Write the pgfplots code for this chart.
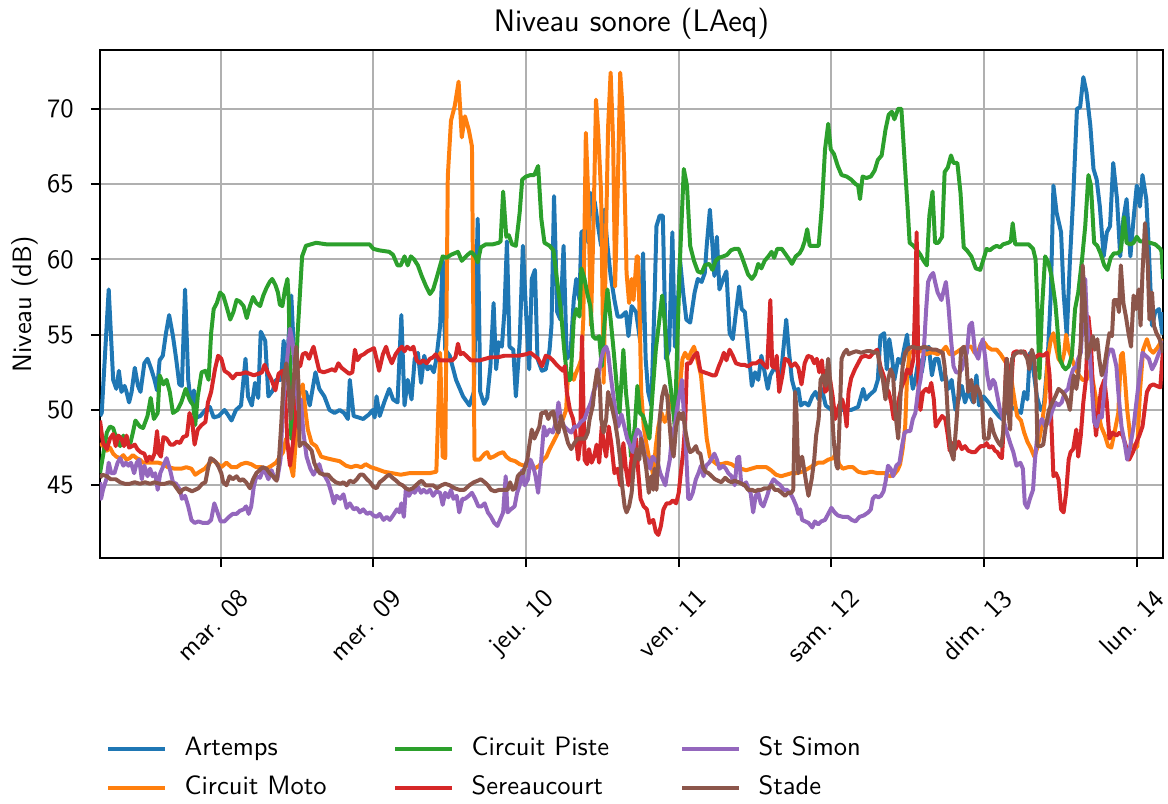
\documentclass[border=0pt]{standalone}
\usepackage{pgfplots}
\pgfplotsset{compat=1.18}
\renewcommand{\familydefault}{\sfdefault}
\definecolor{tabblue}{HTML}{1F77B4}
\definecolor{taborange}{HTML}{FF7F0E}
\definecolor{tabgreen}{HTML}{2CA02C}
\definecolor{tabred}{HTML}{D62728}
\definecolor{tabpurple}{HTML}{9467BD}
\definecolor{tabbrown}{HTML}{8C564B}
\begin{document}
\begin{tikzpicture}
\begin{axis}[
  name=ax,
  scale only axis,
  width=400.45pt, height=191.37pt,
  xmin=5.03, xmax=172.13,
  ymin=40.17, ymax=73.9,
  xtick={24,48,72,96,120,144,168},
  xticklabels={mar. 08, mer. 09, jeu. 10, ven. 11, sam. 12, dim. 13, lun. 14},
  ytick={45,50,55,60,65,70},
  grid=major,
  major grid style={color=black!31, line width=0.8pt},
  tick align=outside,
  tick pos=left,
  major tick length=3.4pt,
  every tick/.style={black, line width=0.8pt},
  axis line style={line width=0.8pt},
  ylabel={Niveau (dB)},
  ylabel shift=-3.6pt,
  /pgf/number format/assume math mode=true,
  yticklabel style={xshift=-3pt},
  xticklabel style={xshift=6.2pt, yshift=-2.8pt, rotate=45, anchor=north east},
  legend columns=3,
  legend cell align=left,
  legend image code/.code={\draw[#1] (0pt,0pt) -- (21.4pt,0pt);},
  legend style={at={(0.0060,-0.352)}, anchor=north west, draw=none, fill=none,
    inner sep=0pt, outer sep=0pt, column sep=0pt, row sep=5.7pt,
    nodes={inner xsep=0pt, inner ysep=0pt, text width=78.6pt, align=left, text height=7pt, text depth=2pt},
    /tikz/every odd column/.append style={column sep=6.6pt}},
  every axis plot/.append style={line width=1.5pt, line join=round, no markers},
]
% Artemps
\addplot[tabblue, forget plot] coordinates {
(5.03,49.6) (5.3,49.8) (6.4,58.0) (7.1,52.0) (7.6,51.4) (8.0,52.6) (8.4,51.2) (8.9,51.6) (9.2,51.2) (9.6,50.5) (10.0,51.2) (10.5,52.8) (11.0,51.6) (11.4,51.2) (12.0,53.1) (12.5,53.4) (13.1,52.7) (13.6,52.0) (14.0,51.3) (14.4,53.3) (14.9,53.6) (15.4,55.1) (15.9,56.3) (16.5,54.9) (17.0,53.4) (17.5,51.7) (17.9,51.6) (18.4,58.0) (18.9,52.0) (19.3,50.5) (19.8,51.3) (20.2,49.5) (20.8,49.6) (21.6,50.0) (22.3,50.2) (22.9,49.5) (23.7,49.6) (24.6,50.0) (25.1,49.7) (25.7,49.3) (26.4,50.0) (27.2,50.3) (27.9,53.4) (28.3,50.9) (28.9,50.3) (29.4,51.8) (29.9,50.8) (30.3,55.2) (31.0,54.6) (31.5,50.9) (32.2,51.3) (32.7,52.0)
(33.5,52.0) (33.9,54.6) (34.3,52.3) (35.1,57.6) (35.9,50.3) (36.7,50.3) (37.4,51.2) (38.0,50.3) (38.9,52.5) (39.5,51.4) (40.3,50.9) (41.1,50.0) (41.9,49.8) (42.7,50.0) (43.4,49.8) (44.0,49.4) (44.3,52.0) (44.9,49.6) (45.7,49.5) (46.4,49.4) (47.3,49.7) (47.9,50.0) (48.2,49.5) (48.5,50.9) (49.0,49.6) (49.7,50.5) (50.5,51.4) (51.1,50.7) (51.8,50.5) (52.4,56.3) (52.9,50.3) (53.4,52.0) (54.0,50.7) (54.5,53.4) (55.0,53.8) (55.5,51.8) (56.0,53.6) (56.5,52.7) (57.0,52.9) (57.5,52.5) (57.9,53.4) (58.5,55.6) (58.9,60.0) (59.3,54.0)
(60.0,53.6) (61.0,52.0) (62.1,50.9) (63.1,50.3) (63.8,51.2) (64.4,62.7) (64.8,51.2) (65.4,50.4) (65.9,50.8) (66.4,52.9) (66.9,57.1) (67.3,52.7) (67.7,54.5) (68.2,54.2) (68.6,56.5) (69.0,61.2) (69.4,54.2) (70.0,54.0) (70.4,50.9) (71.0,54.5) (71.5,60.9) (72.0,56.5) (72.5,52.7) (72.9,58.7) (73.4,59.3) (73.8,53.4) (74.5,52.6) (75.1,52.7) (75.7,54.0) (76.0,55.6) (76.4,64.2) (76.9,56.5) (77.4,56.0) (77.9,60.9) (78.4,53.4) (79.0,53.8) (79.5,57.3) (79.9,58.7) (80.4,57.3) (80.7,61.8) (81.4,62.0) (81.8,61.1) (82.2,64.4) (82.8,63.8) (83.4,62.0) (83.8,60.9) (84.3,63.3) (84.8,60.9) (85.3,58.9) (85.9,57.3) (86.4,56.2)
(87.0,56.2) (87.7,56.5) (88.1,54.9) (88.6,56.9) (89.3,56.5) (89.9,54.7) (90.4,60.4) (90.8,53.4) (91.2,51.2) (91.7,50.3) (92.2,57.3) (92.5,62.2) (93.0,62.9) (93.5,62.9) (94.0,53.4) (94.5,54.0) (95.0,61.8) (95.4,54.2) (95.7,55.6) (96.2,60.0) (96.7,57.8) (97.2,56.0) (97.8,55.8) (98.5,57.8) (99.0,58.7) (99.6,58.5) (100.1,59.1) (100.4,60.9) (100.9,63.3) (101.3,60.9) (101.6,58.9) (102.0,61.5) (102.4,58.0) (103.0,58.7) (103.5,59.2) (104.0,55.1) (104.5,54.7) (105.0,56.5) (105.5,58.2) (105.9,56.7) (106.4,56.5) (106.9,54.2) (107.5,51.6) (108.0,52.5) (108.5,52.0) (109.0,53.6) (109.6,52.3) (110.0,51.4) (110.4,52.3) (110.9,52.7) (111.4,52.7) (112.0,52.0) (112.4,53.8) (112.9,56.0) (113.3,54.0) (113.8,52.0) (114.3,51.2)
(114.8,51.4) (115.2,50.3) (115.8,50.5) (116.4,50.3) (117.0,50.9) (117.5,51.2) (118.0,50.7) (118.5,51.4) (119.1,50.3) (120.0,50.0) (121.6,50.0) (123.1,50.0) (124.2,50.2) (125.0,51.4) (125.4,50.7) (126.0,51.0) (126.8,51.3) (127.3,52.0) (127.7,54.9) (128.3,55.1) (128.7,52.7) (129.1,54.7) (129.5,53.6) (129.9,52.0) (130.5,53.4) (131.0,53.1) (131.5,54.2) (131.9,55.0) (132.3,52.9) (132.8,51.4) (133.2,52.0) (133.7,53.4) (134.2,52.5) (134.7,53.8) (135.3,54.2) (135.8,52.3) (136.3,53.4) (136.8,53.4) (137.4,52.0) (137.9,52.3) (138.4,51.4) (138.9,52.0) (139.5,50.0) (140.0,50.7) (140.5,51.6) (141.0,50.5) (141.5,51.2)
(142.3,50.5) (142.8,52.3) (143.2,50.3) (143.9,50.9) (144.7,50.5) (145.5,50.0) (146.3,49.6) (146.8,49.4) (147.6,50.0) (148.3,50.2) (149.1,50.0) (149.8,49.8) (150.3,51.2) (150.8,50.7) (151.2,53.8) (151.8,52.5) (152.3,50.9) (152.9,50.0) (153.4,50.3) (154.0,53.4) (154.5,57.8) (154.9,64.9) (155.4,63.1) (156.1,61.8) (156.5,57.8) (157.0,54.9) (157.5,60.0) (158.0,64.0) (158.6,70.0) (159.1,70.1) (159.6,72.1) (160.1,71.1) (160.7,68.9) (161.2,66.0) (161.7,65.3) (162.2,63.5) (162.8,60.2) (163.3,61.8) (163.8,62.2) (164.3,66.4) (164.9,64.0) (165.4,60.2) (165.9,62.7) (166.4,64.0) (167.0,60.2) (167.5,62.7) (168.0,64.9) (168.5,63.5) (168.9,65.6) (169.5,64.0) (169.9,60.7) (170.4,55.6) (170.9,56.5) (171.5,56.7) (172.0,55.1) (172.13,56.5)
};
% Circuit Moto
\addplot[taborange, forget plot] coordinates {
(5.03,47.8) (5.5,47.6) (6.1,47.3) (6.6,47.5) (7.1,47.1) (7.6,46.9) (8.2,46.8) (8.7,47.0) (9.2,46.7) (9.7,46.8) (10.2,47.0) (10.8,46.8) (11.3,46.7) (11.8,46.5) (12.6,46.5) (13.4,46.5) (14.2,46.5) (15.0,46.4) (15.7,46.2) (16.8,46.1) (17.8,46.1) (18.6,46.2) (19.4,46.1) (20.0,45.7) (20.7,45.9) (21.5,46.1) (22.3,46.5) (22.8,46.7) (23.3,46.5) (24.1,46.2) (24.9,46.5) (25.7,46.2) (26.5,46.2) (27.2,46.4) (28.0,46.5) (28.8,46.4) (29.6,46.2) (30.4,46.2) (31.2,46.1) (32.0,46.3) (32.7,46.5) (33.8,47.2) (34.3,48.1) (34.7,47.4) (35.1,46.1) (35.4,45.6) (35.9,48.5) (36.4,51.2) (36.9,51.7) (37.3,50.0) (37.7,48.7) (38.3,47.8) (39.0,47.6) (39.8,46.9) (40.6,46.8) (41.6,46.7) (42.7,46.6) (43.7,46.3) (44.5,46.2) (45.3,46.3) (46.1,46.2) (46.8,46.4) (47.6,46.2) (48.4,46.1) (49.7,45.9) (51.0,45.8) (52.3,45.7) (53.6,45.8) (55.2,45.8) (56.8,45.8) (57.9,45.9) (58.5,53.8) (58.9,46.9) (59.3,46.8) (59.7,65.5) (60.2,69.2) (60.8,70.2) (61.4,71.8) (61.9,68.1) (62.4,69.5) (63.0,68.6) (63.5,67.5) (63.9,46.7) (64.7,46.7) (65.5,47.1) (65.9,47.2) (66.3,46.8) (66.9,46.9) (67.7,47.1) (68.4,47.2) (68.9,46.9) (69.5,46.7) (70.3,46.6) (71.0,46.4) (71.7,46.3) (72.5,46.3) (73.3,46.1) (74.1,46.3) (74.7,46.7) (75.2,46.9) (75.7,47.4) (76.2,47.8) (76.8,48.3) (77.3,48.9) (77.8,49.4) (78.3,50.0) (78.6,52.3) (79.1,52.5) (79.5,52.0) (79.9,52.5) (80.3,52.9) (80.7,53.4) (81.0,56.0) (81.4,68.4) (81.8,64.0) (82.2,55.6) (82.6,62.2) (83.0,70.6) (83.3,68.8) (83.8,64.4) (84.2,51.8) (84.6,62.2) (84.9,68.8) (85.3,72.4) (85.7,67.7) (86.0,58.2) (86.4,64.4) (86.8,72.4) (87.1,70.5) (87.4,66.6) (87.8,59.1) (88.2,57.1) (88.6,58.7) (88.9,57.3) (89.4,60.2) (89.6,60.2) (89.9,55.6) (90.1,51.2) (90.5,48.9) (90.9,47.8) (91.3,46.9) (91.7,46.3) (92.0,45.6) (92.4,47.6) (92.8,48.9) (93.3,49.8) (93.8,49.2) (94.2,49.6) (94.6,50.9) (95.1,50.0) (95.5,50.9) (96.1,51.2) (96.6,53.4) (97.0,53.8) (97.5,53.4) (98.0,53.9) (98.4,54.2) (98.9,53.4) (99.5,52.3) (100.0,50.0) (100.4,48.1) (100.9,46.9) (101.4,46.6) (102.0,46.4) (102.7,46.4) (103.5,46.5) (104.3,46.4) (105.0,46.2) (105.8,46.1) (106.6,46.0) (107.4,46.1) (108.2,46.2) (109.0,46.2) (109.8,46.2) (110.5,46.0) (111.3,45.7) (112.1,45.6) (112.9,45.7) (113.7,45.8) (114.5,45.8) (115.4,45.9) (116.3,46.1) (117.1,46.3) (117.9,46.5) (118.7,46.5) (119.5,46.7) (120.3,46.8) (120.8,47.2) (121.2,46.4) (121.8,46.1) (122.6,46.2) (123.4,46.2) (124.2,45.9) (125.2,45.8) (126.3,45.9) (127.3,45.8) (128.4,45.8) (129.2,45.6) (129.8,45.7) (130.4,46.0) (130.8,46.4) (131.2,47.4) (131.6,48.9) (131.9,52.3) (132.3,53.8) (133.0,53.9) (133.6,53.8) (134.2,54.0) (134.9,53.7) (135.5,53.8) (136.1,53.8) (136.7,53.7) (137.4,53.9) (138.0,54.2) (138.6,53.7) (139.2,53.7) (139.9,53.9) (140.6,54.1) (141.3,54.2) (142.0,54.2) (142.5,53.8) (143.0,53.8) (143.5,54.4) (144.0,54.5) (144.5,54.2) (145.2,54.0) (146.0,54.0) (146.6,53.7) (147.2,53.3) (147.8,52.9) (148.2,52.3) (148.7,50.9) (149.2,49.6) (149.8,49.3) (150.3,48.5) (150.8,47.9) (151.3,47.5) (151.9,46.9) (152.3,47.4) (152.8,48.3) (153.2,49.4) (153.6,50.7) (154.0,53.4) (154.5,54.7) (154.9,55.1) (155.3,54.2) (155.7,53.4) (156.2,53.1) (156.6,53.8) (156.9,55.0) (157.3,54.0) (157.8,53.4) (158.4,52.7) (158.9,52.3) (159.5,52.0) (160.1,52.0) (160.8,52.7) (161.4,51.2) (161.9,50.0) (162.4,48.9) (163.0,48.3) (163.5,47.6) (164.0,47.5) (164.5,48.5) (165.1,49.8) (165.5,53.6) (165.8,53.8) (166.1,52.3) (166.5,50.0) (167.1,47.8) (167.6,47.4) (168.1,47.6) (168.5,51.2) (169.0,54.0) (169.6,54.7) (170.1,54.0) (170.6,53.8) (171.2,54.1) (171.8,54.5) (172.13,54.7)
};
% Circuit Piste
\addplot[tabgreen, forget plot] coordinates {
(5.03,45.8) (5.4,46.7) (6.1,48.5) (6.6,48.9) (7.1,48.8) (7.6,48.1) (8.2,47.6) (8.7,48.3) (9.2,47.8) (9.7,47.6) (10.2,48.5) (10.6,49.3) (11.3,48.9) (11.8,48.8) (12.5,49.6) (13.0,50.8) (13.5,49.4) (14.1,49.8) (14.4,52.3) (15.0,51.7) (15.5,52.0) (16.0,51.2) (16.5,49.8) (17.2,50.0) (17.8,50.5) (18.5,51.4) (19.1,50.7) (19.7,50.3) (20.0,49.0) (20.4,50.9) (21.0,52.5) (21.6,52.6) (22.1,52.0) (22.5,55.1) (22.9,56.7) (23.4,57.1) (23.9,57.8) (24.4,57.6) (24.9,56.9) (25.5,56.0) (26.0,56.5) (26.5,57.3) (27.0,57.2) (27.6,56.9) (28.1,56.1) (28.6,56.9) (29.1,57.5) (29.6,57.1) (30.2,56.9) (30.7,57.6) (31.2,58.1) (31.7,58.5) (32.1,58.7) (32.6,58.3) (33.0,57.8) (33.3,57.0) (33.7,56.9) (34.1,58.0) (34.5,58.7) (34.7,57.3) (35.1,48.1) (35.4,48.3) (36.1,55.1) (36.8,60.2) (37.4,60.9) (38.2,61.0) (39.0,61.1) (40.6,61.0) (42.1,61.0) (43.7,61.0) (45.3,61.0) (47.4,61.0) (48.0,60.7) (48.9,60.6) (50.5,60.5) (51.1,60.3) (51.8,59.6) (52.3,59.6) (52.9,60.2) (53.4,59.6) (53.9,60.2) (54.4,60.0) (55.0,59.6) (55.6,58.9) (56.3,58.2) (56.9,57.7) (57.4,58.0) (57.9,58.7) (58.5,59.6) (58.9,60.2) (59.5,60.1) (60.2,60.3) (61.3,60.5) (61.9,59.9) (62.8,60.3) (63.4,60.5) (64.0,60.2) (64.4,59.8) (64.9,60.8) (65.7,61.0) (66.8,61.0) (67.7,61.1) (68.0,61.2) (68.4,64.5) (68.9,61.5) (69.3,61.6) (69.8,61.0) (70.4,60.9) (71.0,63.1) (71.4,65.3) (72.0,65.5) (72.7,65.6) (73.3,65.6) (73.9,66.2) (74.4,62.7) (74.9,61.1) (75.7,60.9) (76.3,60.6) (77.0,58.2) (77.5,56.5) (78.0,54.0) (78.5,52.0) (79.0,52.0) (79.5,56.0) (79.9,56.7) (80.4,56.2) (80.7,59.4) (81.2,58.7) (81.6,57.8) (82.1,56.9) (82.5,54.9) (83.0,54.7) (83.5,54.9) (83.9,52.9) (84.3,55.6) (84.8,58.0) (85.3,56.0) (85.8,53.8) (86.3,51.4) (86.7,49.8) (87.3,54.0) (87.7,51.2) (88.0,50.0) (88.5,46.9) (89.1,48.9) (89.5,51.6) (89.9,49.8) (90.4,49.6) (90.9,48.9) (91.4,48.1) (91.9,51.2) (92.4,54.0) (92.9,55.8) (93.4,57.6) (93.8,55.8) (94.2,53.4) (94.6,52.0) (95.0,50.5) (95.4,48.8) (95.7,53.4) (96.2,60.0) (96.8,66.0) (97.3,64.9) (97.8,60.9) (98.4,59.9) (99.0,59.2) (99.6,59.1) (100.1,59.6) (100.8,59.7) (101.3,59.3) (101.8,59.9) (102.3,60.1) (103.0,60.2) (103.6,60.3) (104.2,60.6) (104.8,60.7) (105.4,60.7) (105.9,60.2) (106.4,59.6) (106.9,59.0) (107.5,58.7) (108.0,59.0) (108.5,59.7) (109.0,59.4) (109.5,59.9) (110.1,60.2) (110.6,60.5) (111.0,60.1) (111.5,60.7) (112.2,60.7) (112.7,60.4) (113.2,60.1) (113.8,59.7) (114.4,60.2) (115.0,60.4) (115.4,60.7) (115.8,61.2) (116.2,62.0) (116.6,60.9) (117.3,60.9) (118.0,60.9) (118.5,63.5) (119.0,67.3) (119.5,69.0) (119.9,67.3) (120.4,67.0) (121.0,66.2) (121.6,65.6) (122.4,65.5) (123.1,65.3) (123.8,65.0) (124.2,64.9) (124.5,64.0) (124.9,65.5) (125.5,65.4) (126.2,65.5) (126.8,65.9) (127.3,66.6) (127.9,66.9) (128.5,68.6) (129.0,69.6) (129.5,69.8) (129.9,69.3) (130.5,70.0) (131.0,70.0) (131.5,66.6) (132.0,63.3) (132.3,61.1) (132.9,60.9) (133.5,60.6) (134.0,60.3) (134.5,59.9) (135.0,59.6) (135.4,62.9) (135.9,64.5) (136.3,61.1) (136.8,61.1) (137.4,61.5) (137.8,65.8) (138.3,66.1) (138.8,66.9) (139.2,66.4) (139.8,66.4) (140.3,64.4) (140.8,60.8) (141.3,60.6) (142.0,60.2) (142.7,59.4) (143.4,59.3) (143.9,60.0) (144.4,60.7) (144.9,60.6) (145.5,60.8) (146.0,60.9) (146.5,60.8) (147.0,61.0) (147.8,61.1) (148.2,61.2) (148.5,62.4) (148.9,61.0) (149.9,61.0) (151.0,61.0) (151.7,60.7) (152.1,60.0) (152.4,56.7) (152.7,52.1) (153.1,56.7) (153.6,60.2) (154.1,59.8) (154.6,58.9) (155.2,57.1) (155.5,55.6) (155.9,53.4) (156.4,52.9) (156.8,52.7) (157.3,52.9) (157.8,53.6) (158.3,56.7) (158.8,57.8) (159.4,60.0) (159.9,62.2) (160.4,65.6) (160.8,64.9) (161.3,61.1) (161.8,60.9) (162.3,60.4) (162.9,59.6) (163.4,59.3) (163.9,60.1) (164.4,60.4) (165.0,60.4) (165.5,60.6) (166.0,62.8) (166.4,61.1) (167.0,61.0) (167.5,61.1) (168.0,61.5) (168.5,61.2) (169.3,61.2) (170.1,61.1) (170.9,61.0) (171.7,60.7) (171.9,60.5) (172.13,58.7)
};
% Sereaucourt
\addplot[tabred, forget plot] coordinates {
(5.03,49.3) (5.5,47.8) (6.1,47.4) (6.6,48.1) (7.1,48.4) (7.5,47.6) (7.9,48.3) (8.4,48.1) (8.8,47.6) (9.2,48.3) (9.6,47.5) (10.1,47.6) (10.5,47.7) (10.9,47.4) (11.4,47.2) (12.0,47.1) (12.4,46.6) (12.8,46.9) (13.2,46.7) (13.6,47.1) (14.0,48.6) (14.3,47.1) (14.6,46.9) (15.0,48.2) (15.5,48.1) (16.1,47.7) (16.6,47.7) (17.1,47.9) (17.6,47.8) (18.1,48.2) (18.7,48.3) (19.1,49.8) (19.5,49.3) (19.9,47.7) (20.4,48.7) (21.0,49.0) (21.6,49.2) (22.0,50.5) (22.5,51.2) (23.1,52.7) (23.6,53.6) (24.1,53.4) (24.6,52.6) (25.3,52.4) (25.9,52.1) (26.5,52.4) (27.2,52.4) (27.9,52.5) (28.6,52.4) (29.2,52.3) (29.9,52.4) (30.5,52.5) (30.9,53.0) (31.4,52.5) (32.0,52.0) (32.6,51.3) (33.1,52.4) (33.7,52.6) (34.1,51.2) (34.5,47.8) (34.9,46.3) (35.3,47.6) (35.8,49.4) (36.1,52.9) (36.5,52.9) (36.9,53.7) (37.4,53.8) (37.9,53.4) (38.3,53.9) (38.6,54.2) (39.1,53.3) (39.5,52.6) (40.2,52.5) (40.9,52.6) (41.5,52.7) (42.0,52.6) (42.5,53.1) (43.0,52.8) (43.6,52.6) (44.2,52.4) (44.7,52.5) (45.1,54.0) (45.5,53.3) (46.0,53.6) (46.5,53.7) (47.1,53.9) (47.6,54.0) (48.1,54.1) (48.5,53.4) (48.9,52.6) (49.5,53.7) (50.0,54.2) (50.4,53.6) (50.9,53.1) (51.5,53.7) (52.0,54.0) (52.5,54.2) (52.9,53.9) (53.3,54.2) (53.9,54.0) (54.3,54.2) (54.8,53.3) (55.3,53.1) (55.8,53.3) (56.4,53.1) (56.9,53.4) (57.4,53.5) (57.8,53.7) (58.4,53.3) (59.0,53.3) (59.8,53.3) (60.4,53.3) (60.9,53.5) (61.3,54.4) (61.7,53.7) (62.1,53.8) (62.6,53.6) (63.3,53.3) (64.0,53.3) (64.8,53.3) (65.6,53.4) (66.5,53.5) (67.6,53.5) (68.6,53.6) (69.6,53.6) (70.8,53.6) (72.0,53.7) (72.7,53.8) (73.3,53.6) (73.9,53.4) (74.5,52.9) (75.1,53.6) (75.7,53.5) (76.2,53.3) (76.8,53.0) (77.3,52.8) (77.8,52.6) (78.1,52.9) (78.4,51.2) (78.9,50.0) (79.4,49.4) (79.8,48.3) (80.2,46.7) (80.5,47.8) (80.8,54.9) (81.2,46.7) (81.6,46.4) (81.9,47.4) (82.3,46.5) (82.7,46.9) (83.1,47.7) (83.5,46.5) (83.9,48.9) (84.2,47.8) (84.6,46.9) (85.0,48.9) (85.4,47.8) (85.9,45.8) (86.4,46.1) (86.8,45.0) (87.0,46.1) (87.3,47.8) (87.7,46.1) (88.1,45.0) (88.4,46.1) (88.8,47.4) (89.3,48.1) (89.6,46.1) (90.0,44.1) (90.5,43.6) (91.0,43.4) (91.4,42.5) (92.0,42.7) (92.4,41.9) (92.8,41.7) (93.2,42.3) (93.6,43.4) (94.1,43.8) (94.6,43.8) (95.1,44.0) (95.6,43.8) (96.0,44.5) (96.4,46.1) (96.7,47.2) (97.0,48.9) (97.3,53.1) (97.8,53.1) (98.4,53.6) (98.9,53.8) (99.4,52.6) (100.0,52.5) (100.7,52.4) (101.3,52.3) (101.8,52.3) (102.3,52.9) (102.7,53.3) (103.1,53.8) (103.5,53.3) (104.0,54.0) (104.5,53.6) (105.0,53.1) (105.7,53.0) (106.3,53.0) (106.9,52.9) (107.6,53.1) (108.2,53.1) (108.8,53.3) (109.4,53.0) (109.9,52.8) (110.4,57.3) (110.7,52.9) (111.1,52.8) (111.4,53.6) (111.8,51.2) (112.3,52.3) (112.7,53.4) (113.2,53.3) (113.7,52.9) (114.3,53.1) (114.8,52.8) (115.3,51.7) (115.8,53.1) (116.3,53.6) (116.9,53.5) (117.3,53.1) (117.7,53.4) (118.1,52.5) (118.5,53.3) (119.0,51.2) (119.4,51.4) (119.8,52.0) (120.2,50.9) (120.6,49.4) (121.2,50.3) (121.7,50.7) (122.1,50.0) (122.4,48.9) (122.7,51.2) (123.1,52.1) (123.7,52.7) (124.2,53.1) (124.7,53.5) (125.3,53.6) (126.0,53.5) (126.6,53.8) (127.2,54.0) (127.7,52.9) (128.2,52.3) (128.6,51.5) (129.0,51.2) (129.4,50.5) (129.8,49.4) (130.3,50.0) (130.7,50.9) (131.1,51.6) (131.5,52.0) (131.9,52.7) (132.4,52.4) (132.9,53.4) (133.2,57.8) (133.4,61.8) (133.7,51.2) (134.0,50.0) (134.4,51.2) (134.9,51.4) (135.3,51.2) (135.7,51.8) (136.1,50.7) (136.4,48.9) (136.8,49.2) (137.4,49.6) (137.9,49.4) (138.3,48.3) (138.6,47.3) (139.0,47.8) (139.5,47.4) (140.0,47.9) (140.5,47.4) (141.0,47.6) (141.5,47.3) (142.1,47.2) (142.6,47.2) (143.0,47.4) (143.5,47.6) (144.0,47.6) (144.4,47.8) (144.8,47.5) (145.3,47.6) (145.7,47.3) (146.1,47.2) (146.5,46.9) (146.8,46.8) (147.1,48.9) (147.5,53.4) (147.8,52.9) (148.2,51.2) (148.6,53.8) (149.1,53.9) (149.8,53.8) (150.3,53.9) (150.8,53.5) (151.4,53.6) (152.1,53.5) (152.7,53.7) (153.3,53.6) (153.9,53.8) (154.3,52.3) (154.6,48.9) (154.9,45.6) (155.3,45.8) (155.7,45.4) (156.1,43.4) (156.5,43.2) (156.9,44.5) (157.3,46.7) (157.6,47.2) (158.0,47.4) (158.5,48.7) (158.8,46.9) (159.2,48.3) (159.6,50.5) (160.0,52.0) (160.4,56.2) (160.8,54.5) (161.2,50.3) (161.6,48.3) (162.0,50.0) (162.4,51.4) (162.9,52.0) (163.3,50.5) (163.7,48.1) (164.2,48.5) (164.8,48.3) (165.3,48.5) (165.8,48.3) (166.3,47.6) (166.8,46.7) (167.4,47.2) (167.9,47.8) (168.4,48.3) (168.9,48.9) (169.6,51.2) (170.1,51.6) (170.6,51.7) (171.1,51.6) (171.7,51.5) (172.13,54.0)
};
% St Simon
\addplot[tabpurple, forget plot] coordinates {
(5.03,45.2) (5.2,44.1) (5.5,44.7) (6.1,45.5) (6.4,46.5) (6.8,45.8) (7.3,45.8) (7.8,46.5) (8.2,46.8) (8.7,46.3) (9.1,46.5) (9.5,46.3) (9.9,46.5) (10.4,45.8) (10.8,46.5) (11.2,46.7) (11.6,45.4) (12.0,46.3) (12.5,45.6) (12.9,46.1) (13.3,45.6) (13.7,45.8) (14.1,44.7) (14.5,45.8) (15.0,46.3) (15.5,46.8) (16.0,46.1) (16.5,45.2) (17.0,45.1) (17.6,44.7) (17.9,44.1) (18.4,44.3) (18.9,43.6) (19.4,42.7) (19.9,42.5) (20.5,42.6) (21.2,42.5) (22.0,42.5) (22.5,42.7) (23.0,43.8) (23.5,43.2) (24.0,42.6) (24.6,42.6) (25.3,42.9) (25.9,43.1) (26.5,43.1) (27.0,43.3) (27.6,43.4) (28.0,43.6) (28.4,43.1) (28.8,43.6) (29.2,44.9) (29.6,45.6) (30.2,45.5) (30.7,46.1) (31.1,45.8) (31.5,45.4) (32.0,46.0) (32.5,45.4) (32.9,45.4) (33.4,46.7) (33.8,50.3) (34.2,52.3) (34.6,54.0) (34.9,55.4) (35.3,54.5) (35.8,52.3) (36.2,50.0) (36.6,50.7) (37.0,48.5) (37.5,46.9) (38.1,46.1) (38.6,45.7) (39.1,46.1) (39.5,46.4) (39.9,45.8) (40.4,45.6) (40.9,45.2) (41.4,44.5) (41.8,43.8) (42.2,44.3) (42.8,44.1) (43.3,44.4) (43.8,43.5) (44.3,43.8) (44.9,43.4) (45.4,43.5) (45.9,43.2) (46.4,43.4) (47.0,43.1) (47.5,43.2) (48.0,43.0) (48.5,42.9) (49.0,43.1) (49.6,42.7) (50.1,42.9) (50.6,42.7) (51.1,43.0) (51.7,43.4) (52.1,43.2) (52.4,43.8) (52.8,42.9) (53.1,44.7) (53.6,44.3) (54.1,44.7) (54.5,44.5) (55.0,44.9) (55.5,44.5) (55.9,44.7) (56.4,44.5) (56.9,44.7) (57.4,44.3) (57.9,44.6) (58.5,44.5) (58.9,43.7) (59.3,44.5) (59.8,44.2) (60.2,44.7) (60.6,44.1) (61.1,44.3) (61.5,43.2) (62.0,44.1) (62.4,44.1) (63.0,44.3) (63.5,44.5) (64.0,44.1) (64.5,43.6) (65.0,43.6) (65.5,43.8) (66.0,43.2) (66.5,42.9) (67.0,42.5) (67.5,42.3) (67.9,42.7) (68.4,43.2) (68.8,45.6) (69.1,43.2) (69.6,43.4) (70.2,43.6) (70.6,44.5) (71.0,45.0) (71.4,46.0) (71.8,45.0) (72.3,45.4) (72.7,46.7) (73.1,46.3) (73.5,45.6) (73.9,44.5) (74.4,46.7) (74.8,48.9) (75.2,48.3) (75.7,48.7) (76.2,48.5) (76.7,49.2) (77.1,50.5) (77.5,49.4) (78.0,48.9) (78.5,48.7) (79.1,48.5) (79.6,48.9) (80.1,48.9) (80.6,49.2) (81.2,49.4) (81.7,50.0) (82.2,50.5) (82.6,51.2) (83.0,51.6) (83.3,52.0) (83.8,53.4) (84.2,54.0) (84.6,54.2) (84.9,53.8) (85.3,52.3) (85.8,50.7) (86.1,49.8) (86.5,48.9) (87.0,49.7) (87.4,49.0) (87.9,48.1) (88.4,47.6) (88.8,47.2) (89.1,48.1) (89.5,48.7) (89.9,48.5) (90.3,47.8) (90.7,46.9) (91.1,46.7) (91.5,46.1) (91.9,46.9) (92.3,46.7) (92.7,46.5) (93.1,45.8) (93.5,45.4) (93.9,45.0) (94.2,45.8) (94.6,46.7) (95.0,48.5) (95.4,48.9) (95.7,50.0) (96.2,51.2) (96.5,52.0) (96.8,49.8) (97.1,47.8) (97.5,44.1) (97.8,44.1) (98.2,44.5) (98.7,45.4) (99.1,45.8) (99.5,46.3) (99.9,45.6) (100.3,46.3) (100.8,46.5) (101.2,46.8) (101.6,47.1) (102.0,46.7) (102.4,46.1) (103.0,46.3) (103.4,46.1) (103.8,45.8) (104.3,45.6) (104.8,45.0) (105.2,46.8) (105.5,46.9) (105.8,45.2) (106.2,45.0) (106.6,45.2) (107.0,44.7) (107.3,44.5) (107.7,43.2) (108.1,44.3) (108.5,44.5) (108.9,43.8) (109.3,43.6) (109.9,44.3) (110.4,45.0) (110.9,45.4) (111.4,45.2) (112.0,45.0) (112.5,44.7) (113.0,44.7) (113.5,44.5) (114.0,44.1) (114.5,43.6) (114.8,43.1) (115.1,43.4) (115.4,42.7) (115.9,42.6) (116.4,42.5) (117.0,42.2) (117.4,42.6) (117.9,42.4) (118.4,42.6) (119.0,42.7) (119.5,43.1) (120.0,43.5) (120.5,43.2) (121.0,43.0) (121.8,42.9) (122.6,42.9) (123.2,42.7) (123.8,42.6) (124.4,42.9) (125.1,43.0) (125.8,43.2) (126.2,43.4) (126.5,44.1) (126.9,44.3) (127.4,44.2) (127.8,44.3) (128.2,44.6) (128.5,45.2) (128.9,46.3) (129.3,46.1) (129.7,45.6) (130.2,46.3) (130.7,46.5) (131.1,47.6) (131.5,48.5) (132.0,48.6) (132.4,48.6) (132.8,49.4) (133.2,49.8) (133.6,51.2) (134.0,52.0) (134.4,53.4) (134.6,54.5) (134.9,56.7) (135.2,58.5) (135.6,58.9) (136.0,59.1) (136.3,58.5) (136.7,57.8) (137.3,57.3) (137.7,58.0) (138.0,58.5) (138.4,56.9) (138.8,54.7) (139.2,52.9) (139.6,52.5) (140.1,52.5) (140.5,52.7) (140.9,53.4) (141.3,53.8) (141.7,55.6) (142.1,55.8) (142.6,53.8) (143.1,53.4) (143.4,54.2) (143.8,54.7) (144.2,53.4) (144.5,52.3) (144.9,51.4) (145.4,52.0) (145.7,51.8) (146.1,50.9) (146.5,50.0) (147.0,49.4) (147.6,48.5) (148.1,47.8) (148.6,47.2) (149.1,46.3) (149.7,46.5) (150.1,46.1) (150.4,43.8) (150.8,43.5) (151.2,44.1) (151.7,44.7) (152.0,46.7) (152.5,48.9) (153.1,49.4) (153.6,48.9) (154.1,49.2) (154.6,49.8) (155.2,50.5) (155.7,50.3) (156.2,50.5) (156.7,51.2) (157.2,51.4) (157.5,52.0) (158.0,52.7) (158.5,52.9) (158.8,53.4) (159.2,53.8) (159.6,56.5) (159.9,58.7) (160.1,56.5) (160.6,53.8) (160.9,51.8) (161.3,49.2) (161.7,48.9) (162.1,49.6) (162.5,49.5) (162.9,51.2) (163.3,53.4) (163.7,54.0) (164.2,54.0) (164.8,52.9) (165.1,51.2) (165.6,48.9) (166.1,47.8) (166.5,46.7) (166.9,47.4) (167.5,48.9) (168.0,50.7) (168.5,52.5) (168.9,53.8) (169.4,53.6) (169.9,53.4) (170.4,52.7) (170.9,53.1) (171.5,53.8) (172.0,54.2) (172.13,54.6)
};
% Stade
\addplot[tabbrown, forget plot] coordinates {
(5.03,45.5) (5.4,45.7) (6.1,45.6) (6.7,45.4) (7.5,45.4) (8.2,45.2) (8.9,45.1) (9.7,45.1) (10.5,45.2) (11.3,45.1) (12.1,45.2) (12.9,45.1) (13.6,45.2) (14.4,45.1) (15.2,45.1) (16.0,45.2) (16.6,45.1) (17.1,44.8) (17.6,44.5) (18.0,44.7) (18.5,44.8) (19.0,44.7) (19.5,44.6) (20.0,44.7) (20.5,44.8) (21.1,45.1) (21.6,45.2) (22.0,46.1) (22.4,46.8) (22.8,46.7) (23.3,46.5) (23.7,46.2) (24.1,45.8) (24.4,45.2) (24.9,45.0) (25.4,45.6) (25.9,45.4) (26.5,45.6) (27.0,45.3) (27.5,45.4) (28.0,45.2) (28.6,44.8) (29.1,45.4) (29.6,45.8) (30.1,46.0) (30.6,46.2) (31.2,46.1) (31.7,45.8) (32.2,45.6) (32.8,45.3) (33.1,46.3) (33.5,48.9) (33.9,52.0) (34.3,53.1) (34.6,52.0) (35.0,49.4) (35.3,50.7) (35.7,53.4) (35.9,54.2) (36.2,52.0) (36.4,47.6) (36.8,47.8) (37.2,47.8) (37.7,47.6) (38.3,47.3) (38.7,46.5) (39.1,46.1) (39.6,45.8) (40.3,45.7) (40.9,45.7) (41.5,45.4) (42.1,45.2) (42.8,45.1) (43.3,45.2) (43.8,45.0) (44.3,45.3) (44.9,45.2) (45.4,45.4) (45.9,45.7) (46.4,45.7) (47.0,45.4) (47.5,45.2) (48.0,44.9) (48.5,44.8) (49.0,45.2) (49.6,45.4) (50.1,45.6) (50.5,45.7) (51.0,45.5) (51.6,45.3) (52.1,45.1) (52.6,45.0) (53.1,44.8) (53.6,44.7) (54.2,44.8) (54.7,45.0) (55.2,45.2) (55.6,45.3) (56.2,45.0) (56.8,45.0) (57.4,45.0) (58.0,44.8) (58.7,45.0) (59.3,45.1) (60.0,45.0) (60.8,44.8) (61.5,44.7) (62.3,44.7) (63.1,45.0) (63.8,45.2) (64.4,45.3) (64.9,45.4) (65.5,45.2) (66.0,45.0) (66.5,44.7) (67.1,44.6) (67.8,44.7) (68.6,44.7) (69.1,44.7) (69.5,45.2) (69.9,44.7) (70.3,44.8) (70.7,45.6) (71.1,45.8) (71.5,45.8) (71.9,46.3) (72.2,46.7) (72.5,47.6) (72.9,48.7) (73.3,48.1) (73.7,48.5) (74.1,48.9) (74.4,49.8) (74.8,49.8) (75.1,49.9) (75.5,49.4) (75.9,49.8) (76.3,49.9) (76.7,48.9) (77.1,48.5) (77.5,49.6) (77.9,48.9) (78.3,48.3) (78.6,47.8) (79.1,47.4) (79.6,47.8) (80.1,48.1) (80.7,48.1) (81.3,48.1) (81.7,48.5) (82.0,49.4) (82.5,50.3) (82.8,51.6) (83.2,52.7) (83.6,51.6) (83.8,49.4) (84.2,48.5) (84.6,49.4) (84.9,51.2) (85.2,50.7) (85.6,50.0) (86.0,49.2) (86.4,48.1) (86.8,46.7) (87.1,45.0) (87.5,43.6) (87.8,43.2) (88.2,43.6) (88.6,44.5) (88.9,46.1) (89.4,47.4) (89.8,46.7) (90.1,48.1) (90.5,47.2) (90.9,46.1) (91.3,44.5) (91.7,45.6) (92.0,44.7) (92.2,46.1) (92.5,44.7) (92.8,46.7) (93.0,49.4) (93.4,50.9) (93.8,51.6) (94.2,50.9) (94.5,49.4) (94.8,47.8) (95.2,46.9) (95.6,48.9) (96.1,49.8) (96.4,49.4) (96.7,49.8) (97.1,48.5) (97.5,47.6) (97.8,47.2) (98.2,47.3) (98.7,47.6) (99.0,47.2) (99.4,47.1) (99.8,46.2) (100.2,45.9) (100.7,45.8) (101.2,45.6) (101.7,45.4) (102.2,45.3) (102.7,45.2) (103.3,45.5) (103.8,45.3) (104.3,45.2) (104.8,45.3) (105.4,45.2) (105.9,45.1) (106.4,45.0) (106.9,44.7) (107.5,44.7) (108.0,44.6) (108.5,44.7) (109.0,44.7) (109.5,44.8) (110.1,44.8) (110.6,45.0) (111.1,44.7) (111.6,44.7) (112.2,44.5) (112.7,44.3) (113.2,44.5) (113.7,44.5) (114.0,44.7) (114.3,51.2) (114.5,50.0) (114.8,45.8) (115.2,46.7) (115.4,46.9) (115.7,46.1) (116.1,45.0) (116.4,44.3) (116.9,45.4) (117.3,46.7) (117.6,48.3) (118.0,49.4) (118.3,52.0) (118.7,52.3) (119.1,51.6) (119.5,53.4) (119.7,52.5) (120.0,50.5) (120.4,47.8) (120.8,46.3) (121.0,46.1) (121.3,49.4) (121.6,53.4) (122.0,53.8) (122.4,54.0) (122.7,53.7) (123.2,53.8) (123.9,53.9) (124.7,53.8) (125.5,53.9) (126.2,53.9) (126.8,53.8) (127.3,53.8) (127.7,52.6) (128.1,52.0) (128.5,50.7) (128.9,52.0) (129.3,52.7) (129.7,52.3) (130.0,50.0) (130.5,48.1) (130.9,51.2) (131.2,52.9) (131.6,53.8) (132.1,54.1) (132.8,54.2) (133.4,54.1) (134.0,54.1) (134.6,54.2) (135.3,54.1) (135.9,54.0) (136.5,54.0) (137.0,53.9) (137.5,53.8) (137.8,52.9) (138.1,51.2) (138.4,48.9) (138.8,47.2) (139.2,46.7) (139.6,48.9) (140.0,51.2) (140.4,54.0) (140.8,54.2) (141.2,53.4) (141.5,51.2) (142.0,52.0) (142.4,50.5) (142.8,51.6) (143.3,51.2) (143.7,50.3) (144.0,48.1) (144.4,48.1) (144.7,48.1) (145.0,49.4) (145.5,48.5) (145.9,48.1) (146.3,47.8) (146.7,47.6) (147.0,48.5) (147.4,52.3) (147.6,53.4) (147.8,50.0) (148.1,48.7) (148.4,53.4) (148.8,53.7) (149.2,53.8) (149.8,53.9) (150.3,53.8) (150.8,53.4) (151.1,52.7) (151.5,54.0) (151.9,53.4) (152.2,51.2) (152.4,47.6) (152.9,47.6) (153.3,47.7) (153.7,48.9) (154.2,50.0) (154.7,50.5) (155.2,50.9) (155.7,51.4) (156.3,51.2) (156.8,50.9) (157.2,50.5) (157.5,50.0) (157.8,51.4) (158.1,52.3) (158.5,51.4) (158.8,52.3) (159.2,54.5) (159.5,59.6) (159.9,56.7) (160.2,53.4) (160.7,54.2) (161.1,54.9) (161.4,54.0) (161.8,54.7) (162.1,53.4) (162.5,52.3) (162.9,52.9) (163.3,54.0) (163.7,55.1) (164.1,54.9) (164.4,57.3) (164.9,57.3) (165.2,56.5) (165.5,59.6) (165.9,57.1) (166.3,56.2) (166.7,55.1) (167.1,54.2) (167.5,57.6) (167.9,56.7) (168.3,58.0) (168.6,55.6) (168.9,59.1) (169.3,62.4) (169.7,60.0) (170.0,56.0) (170.4,57.8) (170.7,55.6) (171.1,55.1) (171.6,54.7) (171.9,54.2) (172.13,53.8)
};
\addlegendimage{tabblue, line width=1.5pt}
\addlegendentry{Artemps}
\addlegendimage{tabgreen, line width=1.5pt}
\addlegendentry{Circuit Piste}
\addlegendimage{tabpurple, line width=1.5pt}
\addlegendentry{St Simon}
\addlegendimage{taborange, line width=1.5pt}
\addlegendentry{Circuit Moto}
\addlegendimage{tabred, line width=1.5pt}
\addlegendentry{Sereaucourt}
\addlegendimage{tabbrown, line width=1.5pt}
\addlegendentry{Stade}
\end{axis}
\node[anchor=base, font=\fontsize{11.7}{14}\selectfont, inner sep=0pt] at ([yshift=6.9pt]ax.north) {Niveau sonore (LAeq)};
\pgfresetboundingbox
\path ([xshift=-37.67pt,yshift=-92.3pt]ax.south west) rectangle ([xshift=1.88pt,yshift=18.84pt]ax.north east);
\end{tikzpicture}
\end{document}
